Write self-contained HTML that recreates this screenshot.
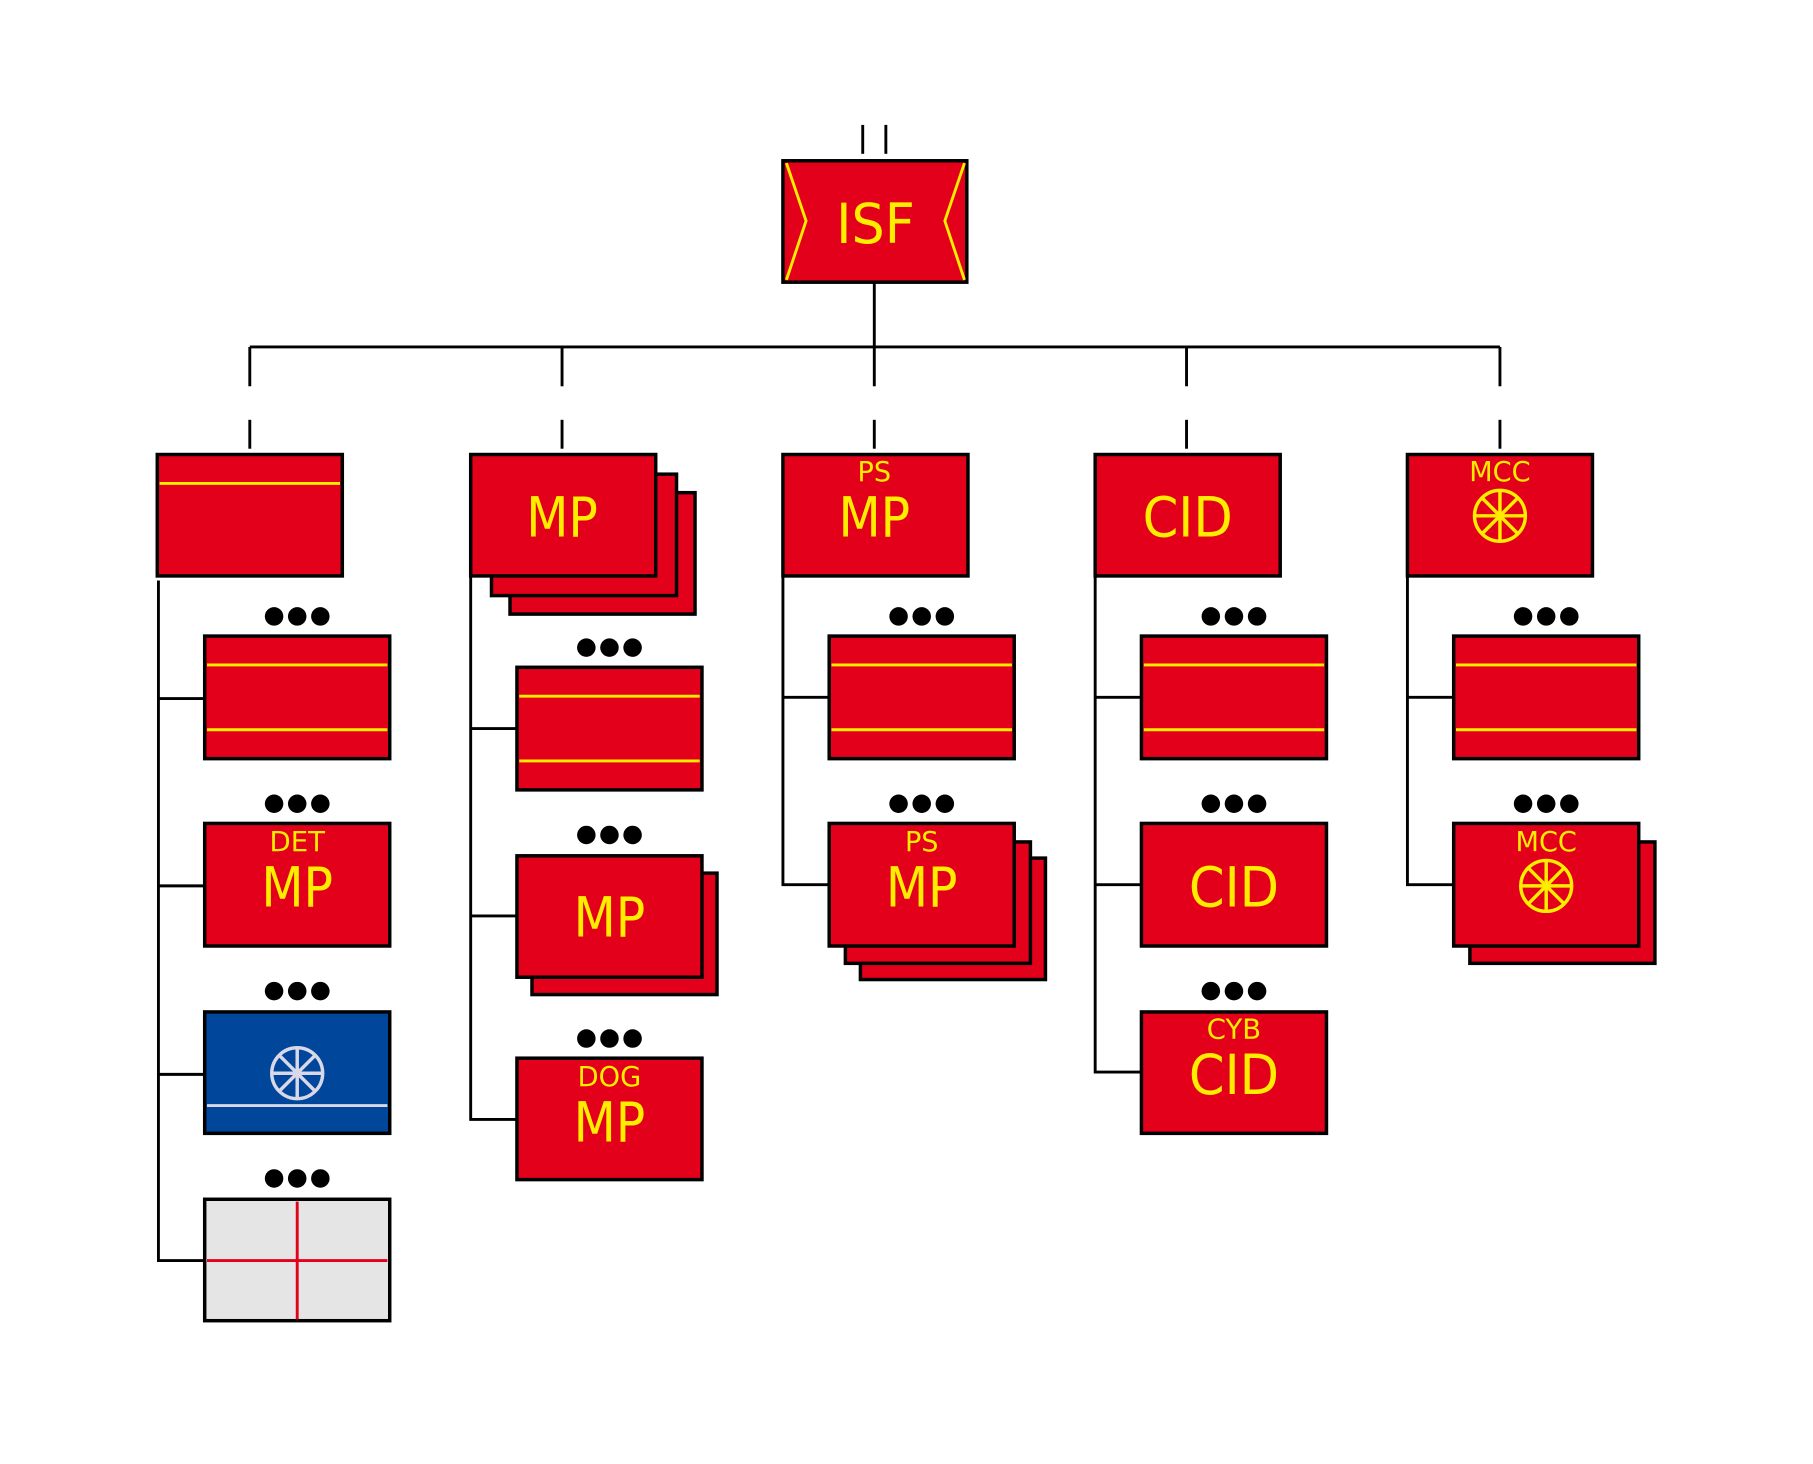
<!DOCTYPE html>
<html><head><meta charset="utf-8"><style>html,body{margin:0;padding:0;background:#fff}svg{display:block}</style></head><body>
<svg width="1813" height="1464" viewBox="0 0 1567.7 1265.9" xmlns="http://www.w3.org/2000/svg" font-family="'DejaVu Sans','Liberation Sans',sans-serif">
<defs>
<g id="wheel" stroke-width="3" fill="none">
<circle r="22"/><line x1="-22" y1="0" x2="22" y2="0"/><line x1="0" y1="-22" x2="0" y2="22"/><line x1="-15.5" y1="-15.5" x2="15.5" y2="15.5"/><line x1="-15.5" y1="15.5" x2="15.5" y2="-15.5"/>
</g>
<g id="dots" fill="#000"><circle cx="-20" cy="0" r="8"/><circle cx="0" cy="0" r="8"/><circle cx="20" cy="0" r="8"/></g>
</defs>
<g stroke="#000" stroke-width="2.5" fill="none">
<line x1="746" y1="108" x2="746" y2="133"/><line x1="766" y1="108" x2="766" y2="133"/>
<line x1="756" y1="244" x2="756" y2="300"/>
<line x1="216" y1="300" x2="1297" y2="300"/>
<line x1="216" y1="300" x2="216" y2="334"/><line x1="486" y1="300" x2="486" y2="334"/><line x1="756" y1="300" x2="756" y2="334"/><line x1="1026" y1="300" x2="1026" y2="334"/><line x1="1297" y1="300" x2="1297" y2="334"/>
<line x1="216" y1="363" x2="216" y2="388"/><line x1="486" y1="363" x2="486" y2="388"/><line x1="756" y1="363" x2="756" y2="388"/><line x1="1026" y1="363" x2="1026" y2="388"/><line x1="1297" y1="363" x2="1297" y2="388"/>
<polyline points="137,502 137,1090 177,1090"/><line x1="137" y1="604" x2="177" y2="604"/><line x1="137" y1="766" x2="177" y2="766"/><line x1="137" y1="929" x2="177" y2="929"/>
<polyline points="407,498 407,968 447,968"/><line x1="407" y1="630" x2="447" y2="630"/><line x1="407" y1="792" x2="447" y2="792"/>
<polyline points="677,498 677,765 717,765"/><line x1="677" y1="603" x2="717" y2="603"/>
<polyline points="947,498 947,927 987,927"/><line x1="947" y1="603" x2="987" y2="603"/><line x1="947" y1="765" x2="987" y2="765"/>
<polyline points="1217,498 1217,765 1257,765"/><line x1="1217" y1="603" x2="1257" y2="603"/>
</g>
<g stroke="#000" stroke-width="3" fill="#e2001a">
<rect x="677" y="139" width="159" height="105"/>
<rect x="136" y="393" width="160" height="105"/>
<rect x="441" y="426" width="160" height="105"/><rect x="425" y="410" width="160" height="105"/><rect x="407" y="393" width="160" height="105"/>
<rect x="677" y="393" width="160" height="105"/>
<rect x="947" y="393" width="160" height="105"/>
<rect x="1217" y="393" width="160" height="105"/>
<rect x="177" y="550" width="160" height="106"/>
<rect x="177" y="712" width="160" height="106"/>
<rect x="177" y="875" width="160" height="105" fill="#00469b"/>
<rect x="177" y="1037" width="160" height="105" fill="#e5e5e5"/>
<rect x="447" y="577" width="160" height="106"/>
<rect x="460" y="755" width="160" height="105"/><rect x="447" y="740" width="160" height="105"/>
<rect x="447" y="915" width="160" height="105"/>
<rect x="717" y="550" width="160" height="106"/>
<rect x="744" y="742" width="160" height="105"/><rect x="731" y="728" width="160" height="105"/><rect x="717" y="712" width="160" height="106"/>
<rect x="987" y="550" width="160" height="106"/>
<rect x="987" y="712" width="160" height="106"/>
<rect x="987" y="875" width="160" height="105"/>
<rect x="1257" y="550" width="160" height="106"/>
<rect x="1271" y="728" width="160" height="105"/><rect x="1257" y="712" width="160" height="106"/>
</g>
<g stroke="#ffed00" stroke-width="2.5" fill="none">
<polyline points="680,141 697,191 680,242"/><polyline points="834,141 817,191 834,242"/>
<line x1="138" y1="418" x2="294" y2="418"/>
<line x1="179" y1="575" x2="335" y2="575"/><line x1="179" y1="631" x2="335" y2="631"/>
<line x1="449" y1="602" x2="605" y2="602"/><line x1="449" y1="658" x2="605" y2="658"/>
<line x1="719" y1="575" x2="875" y2="575"/><line x1="719" y1="631" x2="875" y2="631"/>
<line x1="989" y1="575" x2="1145" y2="575"/><line x1="989" y1="631" x2="1145" y2="631"/>
<line x1="1259" y1="575" x2="1415" y2="575"/><line x1="1259" y1="631" x2="1415" y2="631"/>
<use href="#wheel" x="1297" y="446" stroke="#ffed00"/>
<use href="#wheel" x="1337" y="766" stroke="#ffed00"/>
</g>
<use href="#wheel" x="257" y="928" stroke="#d8d8e8"/>
<line x1="179" y1="956" x2="335" y2="956" stroke="#d8d8e8" stroke-width="2.5"/>
<line x1="179" y1="1090" x2="335" y2="1090" stroke="#e2001a" stroke-width="2.5"/>
<line x1="257" y1="1039" x2="257" y2="1141" stroke="#e2001a" stroke-width="2.5"/>
<use href="#dots" x="257" y="533"/><use href="#dots" x="257" y="695"/><use href="#dots" x="257" y="857"/><use href="#dots" x="257" y="1019"/>
<use href="#dots" x="527" y="560"/><use href="#dots" x="527" y="722"/><use href="#dots" x="527" y="898"/>
<use href="#dots" x="797" y="533"/><use href="#dots" x="797" y="695"/>
<use href="#dots" x="1067" y="533"/><use href="#dots" x="1067" y="695"/><use href="#dots" x="1067" y="857"/>
<use href="#dots" x="1337" y="533"/><use href="#dots" x="1337" y="695"/>
<g fill="#ffed00" text-anchor="middle">
<text x="757" y="210" font-size="48" textLength="68" lengthAdjust="spacingAndGlyphs">ISF</text>
<text x="486" y="464" font-size="48" textLength="62" lengthAdjust="spacingAndGlyphs">MP</text>
<text x="756" y="416" font-size="24" textLength="29" lengthAdjust="spacingAndGlyphs">PS</text><text x="756" y="464" font-size="48" textLength="62" lengthAdjust="spacingAndGlyphs">MP</text>
<text x="1027" y="464" font-size="48" textLength="78" lengthAdjust="spacingAndGlyphs">CID</text>
<text x="1297" y="416" font-size="24" textLength="53" lengthAdjust="spacingAndGlyphs">MCC</text>
<text x="257" y="736" font-size="24" textLength="48" lengthAdjust="spacingAndGlyphs">DET</text><text x="257" y="784" font-size="48" textLength="62" lengthAdjust="spacingAndGlyphs">MP</text>
<text x="527" y="810" font-size="48" textLength="62" lengthAdjust="spacingAndGlyphs">MP</text>
<text x="527" y="939" font-size="24" textLength="55" lengthAdjust="spacingAndGlyphs">DOG</text><text x="527" y="987" font-size="48" textLength="62" lengthAdjust="spacingAndGlyphs">MP</text>
<text x="797" y="736" font-size="24" textLength="29" lengthAdjust="spacingAndGlyphs">PS</text><text x="797" y="784" font-size="48" textLength="62" lengthAdjust="spacingAndGlyphs">MP</text>
<text x="1067" y="784" font-size="48" textLength="78" lengthAdjust="spacingAndGlyphs">CID</text>
<text x="1067" y="898" font-size="24" textLength="47" lengthAdjust="spacingAndGlyphs">CYB</text><text x="1067" y="946" font-size="48" textLength="78" lengthAdjust="spacingAndGlyphs">CID</text>
<text x="1337" y="736" font-size="24" textLength="53" lengthAdjust="spacingAndGlyphs">MCC</text>
</g>
</svg>
</body></html>
